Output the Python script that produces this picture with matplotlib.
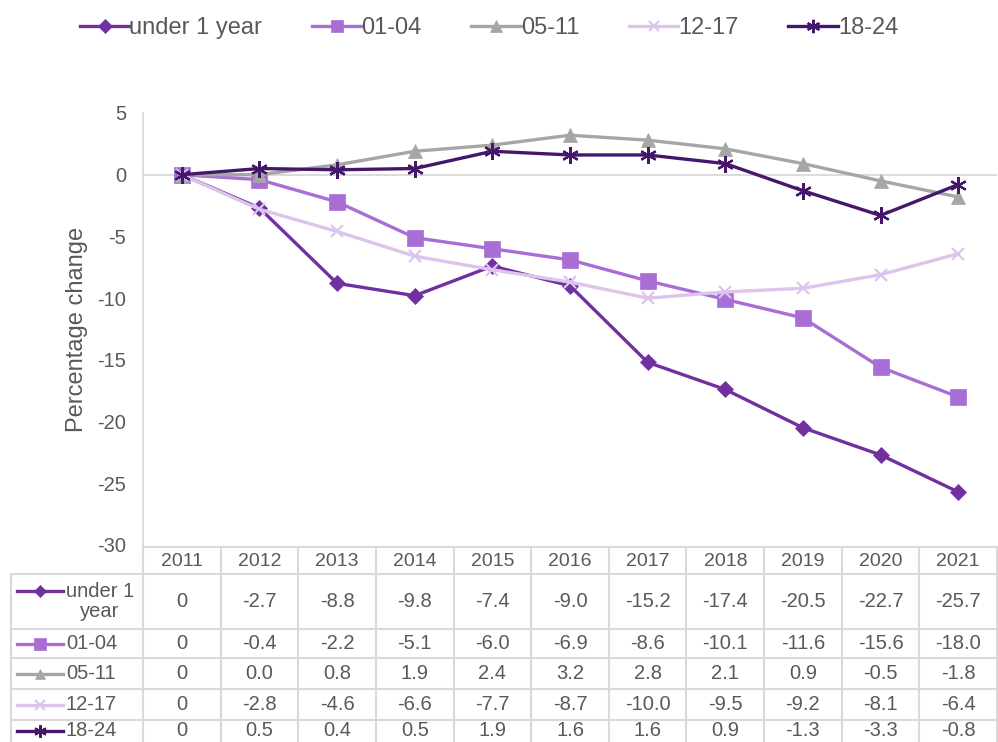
import matplotlib
matplotlib.use("Agg")
import matplotlib.pyplot as plt

plt.rcParams['font.family'] = ['Liberation Sans', 'DejaVu Sans']
plt.rcParams['axes.unicode_minus'] = False

years = ['2011', '2012', '2013', '2014', '2015', '2016', '2017', '2018', '2019', '2020', '2021']
groups = ['under 1 year', '01-04', '05-11', '12-17', '18-24']
row_labels = ['under 1\nyear', '01-04', '05-11', '12-17', '18-24']

under_1 = [0, -2.7, -8.8, -9.8, -7.4, -9.0, -15.2, -17.4, -20.5, -22.7, -25.7]
age_01_04 = [0, -0.4, -2.2, -5.1, -6.0, -6.9, -8.6, -10.1, -11.6, -15.6, -18.0]
age_05_11 = [0, 0.0, 0.8, 1.9, 2.4, 3.2, 2.8, 2.1, 0.9, -0.5, -1.8]
age_12_17 = [0, -2.8, -4.6, -6.6, -7.7, -8.7, -10.0, -9.5, -9.2, -8.1, -6.4]
age_18_24 = [0, 0.5, 0.4, 0.5, 1.9, 1.6, 1.6, 0.9, -1.3, -3.3, -0.8]
series = [under_1, age_01_04, age_05_11, age_12_17, age_18_24]

colors = ['#7030a0', '#a86ed6', '#a6a6a6', '#dcc4ec', '#44176a']
markers = ['D', 's', '^', 'x', (6, 2, 0)]
msizes = [8.5, 11, 10, 9, 12]
txt = '#595959'
grid = '#d9d9d9'

W, H = 998, 742
fig = plt.figure(figsize=(W / 100, H / 100), dpi=100)

# main plot area (pixel positions converted to fractions)
left, right, top, bottom = 143, 997, 113, 545
ax = fig.add_axes([left / W, 1 - bottom / H, (right - left) / W, (bottom - top) / H])
x = list(range(len(years)))
handles = []
for name, vals, c, m, ms in zip(groups, series, colors, markers, msizes):
    h, = ax.plot(x, vals, color=c, lw=2.4, marker=m, markersize=ms,
                 markeredgewidth=1.6 if m in ('x', (6, 2, 0)) else 0.5,
                 markeredgecolor=c, label=name)
    handles.append(h)

ax.set_xlim(-0.5, len(years) - 0.5)
ax.set_ylim(-30, 5)
ax.set_yticks(range(-30, 6, 5))
ax.set_xticks([])
ax.axhline(0, color=grid, lw=1.3, zorder=0)
for s in ['top', 'right', 'bottom']:
    ax.spines[s].set_visible(False)
ax.spines['left'].set_color(grid)
ax.spines['left'].set_linewidth(1.3)
ax.tick_params(axis='y', length=0, pad=12, labelsize=14.5, labelcolor=txt)
ax.set_ylabel('Percentage change', fontsize=17, color=txt, labelpad=7)

# legend
fig.legend(handles=handles, loc='center', bbox_to_anchor=(0.49, 1 - 28 / H), ncol=5,
           frameon=False, fontsize=17, labelcolor=txt, handlelength=2.1,
           handletextpad=0.0, columnspacing=2.1, markerscale=0.8)

# data table below the plot, in pixel y coordinates
tab = fig.add_axes([left / W, 0, (right - left) / W, 547 / H])
tab.set_xlim(-0.5, len(years) - 0.5)
tab.set_ylim(H, H - 547)
tab.axis('off')

col_w = (right - left) / len(years)
x_left = -0.5 - (left - 11) / col_w
row_edges = [574, 629, 658, 689, 720, 752]

# vertical lines
for i in range(len(years) + 1):
    tab.plot([i - 0.5, i - 0.5], [547, H], color=grid, lw=1.5, clip_on=False)
tab.plot([x_left, x_left], [574, H], color=grid, lw=1.5, clip_on=False)
# horizontal lines
tab.plot([-0.5, len(years) - 0.5], [547, 547], color=grid, lw=1.5, clip_on=False)
for y in row_edges[:-1]:
    tab.plot([x_left, len(years) - 0.5], [y, y], color=grid, lw=1.5, clip_on=False)

for i, yr in enumerate(years):
    tab.text(i, 561, yr, ha='center', va='center', fontsize=14, color=txt)

kx0 = -0.5 - (left - 17) / col_w
kx1 = -0.5 - (left - 63) / col_w
for r, (lab, vals, c, m, ms) in enumerate(zip(row_labels, series, colors, markers, msizes)):
    y0, y1 = row_edges[r], row_edges[r + 1]
    yc = (y0 + y1) / 2 if r < 4 else 731
    ky = yc if r > 0 else y0 + 17
    tab.plot([kx0, kx1], [ky, ky], color=c, lw=2.4, clip_on=False)
    tab.plot([(kx0 + kx1) / 2], [ky], color=c, marker=m, markersize=ms * 0.75,
             markeredgewidth=1.5 if m in ('x', (6, 2, 0)) else 0.5,
             markeredgecolor=c, clip_on=False)
    tab.text(-0.5 - (left - 66) / col_w, yc, lab,
             ha='left', va='center', multialignment='center', fontsize=14.5,
             color=txt, linespacing=1.05, clip_on=False)
    for i, v in enumerate(vals):
        s = '0' if i == 0 else f'{v:.1f}'
        tab.text(i, yc, s, ha='center', va='center', fontsize=14.5, color=txt)

fig.savefig('out.png', dpi=100)
